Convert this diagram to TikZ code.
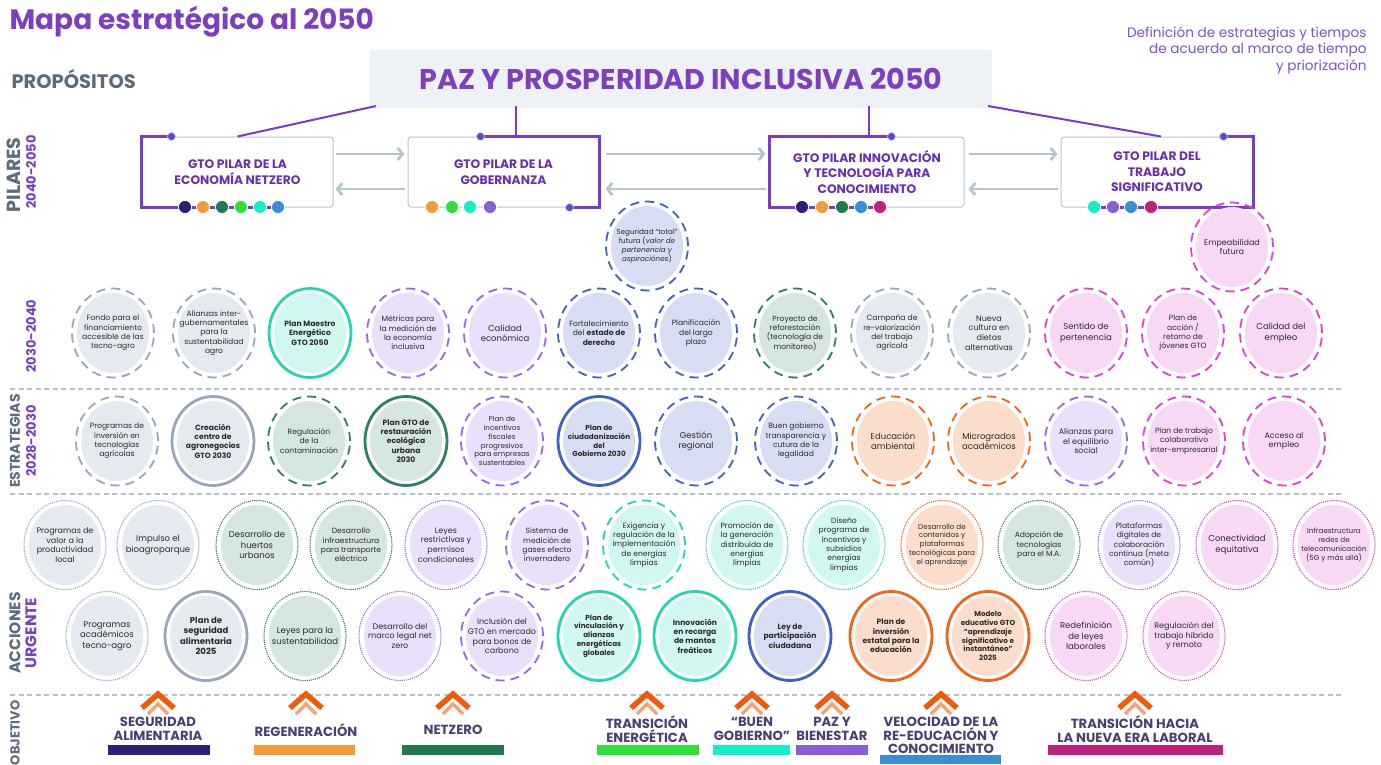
\documentclass[tikz,border=0pt]{standalone}
\usepackage{fontspec}
\setmainfont{Poppins}
\usetikzlibrary{arrows.meta}
\definecolor{tpurple}{HTML}{7B3FC0}
\definecolor{tpurple2}{HTML}{7D52C4}
\definecolor{ptxt}{HTML}{6A2FB0}
\definecolor{greylab}{HTML}{5E6B78}
\definecolor{framepur}{HTML}{7A3CC4}
\definecolor{boxgrey}{HTML}{EEF2F6}
\definecolor{pboxline}{HTML}{BCC6CE}
\definecolor{arrowgrey}{HTML}{B5C4CD}
\definecolor{sepgrey}{HTML}{B8C0CC}
\definecolor{objtxt}{HTML}{4A3F72}
\definecolor{txtdark}{HTML}{2B2B2B}
\definecolor{cNavy}{HTML}{2E1F78}
\definecolor{cOrange}{HTML}{F29C38}
\definecolor{cDGreen}{HTML}{1F7A4F}
\definecolor{cGreen}{HTML}{2EE03A}
\definecolor{cTurq}{HTML}{15EEC8}
\definecolor{cBlue}{HTML}{3A8ED4}
\definecolor{cPurple}{HTML}{8A5CD8}
\definecolor{cMagenta}{HTML}{C0207E}
\definecolor{chevD}{HTML}{F25A0A}
\definecolor{chevL}{HTML}{F5A27C}
\definecolor{greyF}{HTML}{E5E9F0}\definecolor{greyR}{HTML}{98A6BD}
\definecolor{tealF}{HTML}{D5E5E1}\definecolor{tealR}{HTML}{2F7D6D}
\definecolor{turqF}{HTML}{D0F7F0}\definecolor{turqR}{HTML}{20D6B4}
\definecolor{purF}{HTML}{E9E1FB}\definecolor{purR}{HTML}{9966E8}
\definecolor{bluF}{HTML}{D7DDF2}\definecolor{bluR}{HTML}{4060C6}
\definecolor{oraF}{HTML}{FCDDCB}\definecolor{oraR}{HTML}{F06418}
\definecolor{pinF}{HTML}{F8D8F5}\definecolor{pinR}{HTML}{DD40D2}
\newcommand\bub[7][]{%
  \fill[#5F] (#3,#4) ellipse [x radius=36pt, y radius=40pt];%
  \draw[#6, draw=#5R] (#3,#4) ellipse [x radius=41pt, y radius=44.5pt];%
  \node[bubtext, #1] (#2) at (#3,#4) {#7};%
}
\newcommand\chev[1]{%
  \draw[chevD, line width=5.5pt, miter limit=10] (#1-16,708) -- (#1,694) -- (#1+16,708);%
  \draw[chevL, line width=3.5pt] (#1-10,714) -- (#1,704) -- (#1+10,714);%
}
\begin{document}
\begin{tikzpicture}[x=1pt,y=-1pt,
  bubtext/.style={align=center, inner sep=0pt, text=txtdark, font=\fontsize{7.6}{9.3}\selectfont},
  f72/.style={font=\fontsize{7.2}{8.8}\selectfont},
  f80/.style={font=\fontsize{8}{9.8}\selectfont},
  f85/.style={font=\fontsize{8.5}{10.4}\selectfont},
  bb/.style={font=\fontsize{7.6}{9.3}\selectfont\bfseries},
  bb72/.style={font=\fontsize{7.2}{8.8}\selectfont\bfseries},
  bb85/.style={font=\fontsize{8.5}{10.4}\selectfont\bfseries},
  rdash/.style={line width=1.8pt, dash pattern=on 9pt off 6pt},
  rsolid/.style={line width=2.8pt},
  rdot/.style={line width=1.5pt, line cap=round, dash pattern=on 0pt off 2.1pt},
  plab/.style={align=center, text=ptxt, font=\fontsize{12.3}{15.5}\selectfont\bfseries},
  pbox/.style={draw=pboxline, line width=1pt, rounded corners=3pt, fill=white, minimum width=#1, minimum height=70pt, inner sep=0pt},
  frame/.style={draw=framepur, line width=3pt},
  endot/.style={fill=framepur, draw=cTurq!60, line width=0.6pt},
  pdot/.style={draw=white, line width=0.8pt},
  parrow/.style={draw=arrowgrey, line width=2.8pt, -{Straight Barb[length=5pt,width=12pt]}},
  pline/.style={draw=framepur, line width=2pt},
  sep/.style={draw=sepgrey, line width=1.3pt, dash pattern=on 5pt off 3.5pt},
  rowlab/.style={rotate=90, text=greylab, font=\fontsize{14}{16}\selectfont\bfseries},
  rowyr/.style={rotate=90, text=tpurple, font=\fontsize{13}{15}\selectfont\bfseries},
  objlab/.style={align=center, text=objtxt, font=\fontsize{13.2}{13.6}\selectfont\bfseries}
]
\useasboundingbox (0,0) rectangle (1381,764);
\fill[white] (0,0) rectangle (1381,764);

% ---- header
\node[anchor=west, text=tpurple, font=\fontsize{28}{32}\selectfont\bfseries] (title) at (6,22) {Mapa estratégico al 2050};
\node[anchor=west, text=greylab, font=\fontsize{19.5}{22}\selectfont\bfseries] (prop) at (8,79) {PROPÓSITOS};
\node[anchor=north east, align=right, text=tpurple2, font=\fontsize{13.6}{16.5}\selectfont] (def) at (1370,23) {Definición de estrategias y tiempos\\de acuerdo al marco de tiempo\\y priorización};
\node[fill=boxgrey, minimum width=622pt, minimum height=58pt, inner sep=0pt, text=tpurple, font=\fontsize{28.5}{32}\selectfont\bfseries] (pz) at (681,79) {PAZ Y PROSPERIDAD INCLUSIVA 2050};

% ---- pillars
\node[pbox=191pt, plab] (p1) at (237.5,172) {GTO PILAR DE LA\\ECONOMÍA NETZERO};
\node[pbox=191pt, plab] (p2) at (503.5,172) {GTO PILAR DE LA\\GOBERNANZA};
\node[pbox=194pt, plab] (p3) at (867,172) {GTO PILAR INNOVACIÓN\\Y TECNOLOGÍA PARA\\CONOCIMIENTO};
\node[pbox=192pt, plab] (p4) at (1157,172) {GTO PILAR DEL\\TRABAJO\\SIGNIFICATIVO};

\draw[frame] ([xshift=30pt]p1.north west) -- (p1.north west) -- (p1.south west) -- ([xshift=136pt]p1.south west);
\draw[frame] ([xshift=-119pt]p2.north east) -- (p2.north east) -- (p2.south east) -- ([xshift=-30pt]p2.south east);
\draw[frame] ([xshift=122pt]p3.north west) -- (p3.north west) -- (p3.south west) -- ([xshift=110pt]p3.south west);
\draw[frame] ([xshift=-30pt]p4.north east) -- (p4.north east) -- (p4.south east) -- ([xshift=-159pt]p4.south east);
\fill[endot] ([xshift=30pt]p1.north west) circle (4pt);
\fill[endot] ([xshift=-119pt]p2.north east) circle (4pt);
\fill[endot] ([xshift=-30pt]p2.south east) circle (4pt);
\fill[endot] ([xshift=122pt]p3.north west) circle (4pt);
\fill[endot] ([xshift=-30pt]p4.north east) circle (4pt);

\foreach \xx/\cc in {185/cNavy,203/cOrange,222/cDGreen,241/cGreen,260/cTurq,278/cBlue,
                     432/cOrange,452/cGreen,470/cTurq,490/cPurple,
                     802/cNavy,822/cOrange,842/cDGreen,861/cBlue,880/cMagenta,
                     1094/cTurq,1113/cPurple,1131/cBlue,1151/cMagenta}
  \filldraw[pdot, fill=\cc] (\xx,207) circle (6.6pt);

\draw[parrow] ([yshift=18pt, xshift=2pt]p1.east) -- ([yshift=18pt, xshift=-3pt]p2.west);
\draw[parrow] ([yshift=-17pt, xshift=-3pt]p2.west) -- ([yshift=-17pt, xshift=2pt]p1.east);
\draw[parrow] ([yshift=18pt, xshift=6pt]p2.east) -- ([yshift=18pt, xshift=-4pt]p3.west);
\draw[parrow] ([yshift=-17pt, xshift=-4pt]p3.west) -- ([yshift=-17pt, xshift=6pt]p2.east);
\draw[parrow] ([yshift=18pt, xshift=4pt]p3.east) -- ([yshift=18pt, xshift=-3pt]p4.west);
\draw[parrow] ([yshift=-17pt, xshift=-3pt]p4.west) -- ([yshift=-17pt, xshift=4pt]p3.east);

\coordinate (la) at (376,106);
\coordinate (lb) at (516,106);
\coordinate (lc) at (869,106);
\coordinate (ld) at (988,106);
\draw[pline] (la) -- (p1.north);
\draw[pline] (lb) -- (lb |- p2.north);
\draw[pline] (lc) -- (lc |- p3.north);
\draw[pline] (ld) -- ([xshift=4pt]p4.north);

% ---- row labels
\node[rowlab, font=\fontsize{19}{21}\selectfont\bfseries] (lpil) at (14,175) {PILARES};
\node[rowyr] (lpily) at (31,172) {2040-2050};
\node[rowyr] (la30) at (31,336) {2030-2040};
\node[rowlab] (lest) at (15,441) {ESTRATEGIAS};
\node[rowyr] (lesty) at (31,441) {2028-2030};
\node[rowlab, font=\fontsize{15.5}{17}\selectfont\bfseries] (lacc) at (15,633) {ACCIONES};
\node[rowyr, font=\fontsize{15.5}{17}\selectfont\bfseries] (lurg) at (31,633) {URGENTE};
\node[rowlab, font=\fontsize{13}{15}\selectfont\bfseries, anchor=east] (lobj) at (15,697) {OBJETIVO};

% ---- separators
\draw[sep] (10,389) -- (1342,389);
\draw[sep] (10,494) -- (1342,494);
\draw[sep] (10,695) -- (1342,695);

% ---- 2030-2040
\bub{a1}{113}{333}{grey}{rdash}{Fondo para el\\financiamiento\\accesible de las\\tecno-agro}
\bub{a2}{214}{333}{grey}{rdash}{Alianzas  inter-\\gubernamentales\\para la\\sustentabilidad\\agro}
\bub[bb]{a3}{310}{333}{turq}{rsolid}{Plan Maestro\\Energético\\GTO 2050}
\bub{a4}{408}{333}{pur}{rdash}{Métricas para\\la medición de\\la economía\\inclusiva}
\bub[f85]{a5}{505}{333}{pur}{rdash}{Calidad\\económica}
\bub{a6}{599}{333}{blu}{rdash}{Fortalecimiento\\del \textbf{estado de}\\\textbf{derecho}}
\bub{a7}{696}{333}{blu}{rdash}{Planificación\\del largo\\plazo}
\bub{a8}{795}{333}{teal}{rdash}{Proyecto de\\reforestación\\(tecnología de\\monitoreo)}
\bub{a9}{892}{333}{grey}{rdash}{Campaña de\\re-valorización\\del trabajo\\agrícola}
\bub[f80]{a10}{989}{333}{grey}{rdash}{Nueva\\cultura en\\dietas\\alternativas}
\bub[f85]{a11}{1086}{333}{pin}{rdash}{Sentido de\\pertenencia}
\bub{a12}{1183}{333}{pin}{rdash}{Plan de\\acción /\\retorno de\\jóvenes GTO}
\bub[f85]{a13}{1281}{333}{pin}{rdash}{Calidad del\\empleo}
\bub[f72]{a14}{647}{246}{blu}{rdash}{Seguridad “total”\\futura (\textit{valor de}\\\textit{pertenencia y}\\\textit{aspiraciónes})}
\bub[f80]{a15}{1232}{247}{pin}{rdash}{Empeabilidad\\futura}

% ---- 2028-2030
\bub{s1}{117}{441}{grey}{rdash}{Programas de\\inversión en\\tecnologías\\agrícolas}
\bub[bb]{s2}{213}{441}{grey}{rsolid}{Creación\\centro de\\agronegocios\\GTO 2030}
\bub{s3}{309}{441}{teal}{rdash}{Regulación\\de la\\contaminación}
\bub[bb]{s4}{406}{441}{teal}{rsolid}{Plan GTO de\\restauración\\ecológica\\urbana\\2030}
\bub[f72]{s5}{502}{441}{pur}{rdash}{Plan de\\incentivos\\fiscales\\progresivos\\para  empresas\\sustentables}
\bub[bb72]{s6}{599}{441}{blu}{rsolid}{Plan de\\ciudadanización\\del\\Gobierno 2030}
\bub[f85]{s7}{696}{441}{blu}{rdash}{Gestión\\regional}
\bub{s8}{796}{441}{blu}{rdash}{Buen  gobierno\\transparencia y\\cutura de la\\legalidad}
\bub[f85]{s9}{893}{441}{ora}{rdash}{Educación\\ambiental}
\bub[f85]{s10}{989}{441}{ora}{rdash}{Microgrados\\académicos}
\bub[f80]{s11}{1086}{441}{pur}{rdash}{Alianzas para\\el equilibrio\\social}
\bub{s12}{1184}{441}{pin}{rdash}{Plan de  trabajo\\colaborativo\\inter-empresarial}
\bub[f80]{s13}{1284}{441}{pin}{rdash}{Acceso al\\empleo}

% ---- acciones 1
\bub[f80]{u1}{65}{545}{grey}{rdot}{Programas de\\valor a la\\productividad\\local}
\bub[f85]{u2}{158}{545}{grey}{rdot}{Impulso el\\bioagroparque}
\bub[f85]{u3}{257}{545}{teal}{rdot}{Desarrollo de\\huertos\\urbanos}
\bub{u4}{351}{545}{teal}{rdot}{Desarrollo\\infraestructura\\para transporte\\eléctrico}
\bub[f80]{u5}{446}{545}{pur}{rdot}{Leyes\\restrictivas y\\permisos\\condicionales}
\bub{u6}{547}{545}{pur}{rdash}{Sistema de\\medición de\\gases efecto\\invernadero}
\bub{u7}{644}{545}{turq}{rdash}{Exigencia y\\regulación de  la\\implementación\\de energías\\limpias}
\bub{u8}{747}{545}{turq}{rdot}{Promoción de\\la generación\\distribuida de\\energías\\limpias}
\bub{u9}{844}{545}{turq}{rdot}{Diseño\\programa de\\incentivos y\\subsidios\\energías\\limpias}
\bub[f72]{u10}{942}{545}{ora}{rdot}{Desarrollo  de\\contenidos y\\plataformas\\tecnológicas para\\el aprendizaje}
\bub{u11}{1039}{545}{teal}{rdot}{Adopción de\\tecnologías\\para el M.A.}
\bub{u12}{1139}{545}{pur}{rdot}{Plataformas\\digitales de\\colaboración\\continua (meta\\común)}
\bub[f85]{u13}{1237}{545}{pin}{rdot}{Conectividad\\equitativa}
\bub[f72]{u14}{1334}{545}{pin}{rdot}{Infraestructura\\redes de\\telecomunicación\\(5G y más allá)}

% ---- acciones 2
\bub[f85]{v1}{107}{636}{grey}{rdot}{Programas\\académicos\\tecno-agro}
\bub[bb85]{v2}{206}{636}{grey}{rsolid}{Plan de\\seguridad\\alimentaria\\2025}
\bub[f85]{v3}{305}{636}{teal}{rdot}{Leyes para la\\sustentabilidad}
\bub[f80]{v4}{400}{636}{pur}{rdot}{Desarrollo del\\marco legal net\\zero}
\bub[f80]{v5}{502}{636}{pur}{rdash}{Inclusión del\\GTO en mercado\\para bonos de\\carbono}
\bub[bb72]{v6}{599}{636}{turq}{rsolid}{Plan de\\vinculación y\\alianzas\\energéticas\\globales}
\bub[bb]{v7}{695}{636}{turq}{rsolid}{Innovación\\en recarga\\de mantos\\freáticos}
\bub[bb]{v8}{790}{636}{blu}{rsolid}{Ley de\\participación\\ciudadana}
\bub[bb]{v9}{891}{636}{ora}{rsolid}{Plan de\\inversión\\estatal para la\\educación}
\bub[bb72]{v10}{988}{636}{ora}{rsolid}{Modelo\\educativo GTO\\“aprendizaje\\significativo e\\instantáneo”\\2025}
\bub[f85]{v11}{1086}{636}{pin}{rdot}{Redefinición\\de leyes\\laborales}
\bub[f80]{v12}{1184}{636}{pin}{rdot}{Regulación  del\\trabajo híbrido\\y  remoto}

% ---- objetivos
\chev{158}\chev{306}\chev{453}\chev{647}\chev{752}\chev{832}\chev{941}\chev{1135}
\node[objlab] (o1) at (158,729) {SEGURIDAD\\ALIMENTARIA};
\node[objlab] (o2) at (306,730) {REGENERACIÓN};
\node[objlab] (o3) at (453,730) {NETZERO};
\node[objlab] (o4) at (647,729) {TRANSICIÓN\\ENERGÉTICA};
\node[objlab] (o5) at (752,729) {“BUEN\\GOBIERNO”};
\node[objlab] (o6) at (832,729) {PAZ Y\\BIENESTAR};
\node[objlab] (o7) at (941,735.5) {VELOCIDAD DE LA\\RE-EDUCACIÓN Y\\CONOCIMIENTO};
\node[objlab] (o8) at (1135,729) {TRANSICIÓN HACIA\\LA NUEVA ERA LABORAL};
\fill[cNavy] (108,745) rectangle (210,755);
\fill[cOrange] (254,745) rectangle (355,755);
\fill[cDGreen] (402,745) rectangle (504,755);
\fill[cGreen] (597,745) rectangle (699,755);
\fill[cTurq] (713,745) rectangle (790,755);
\fill[cPurple] (796,745) rectangle (868,755);
\fill[cBlue] (880,755) rectangle (1001,764);
\fill[cMagenta] (1048,745) rectangle (1223,755);
\end{tikzpicture}
\end{document}
